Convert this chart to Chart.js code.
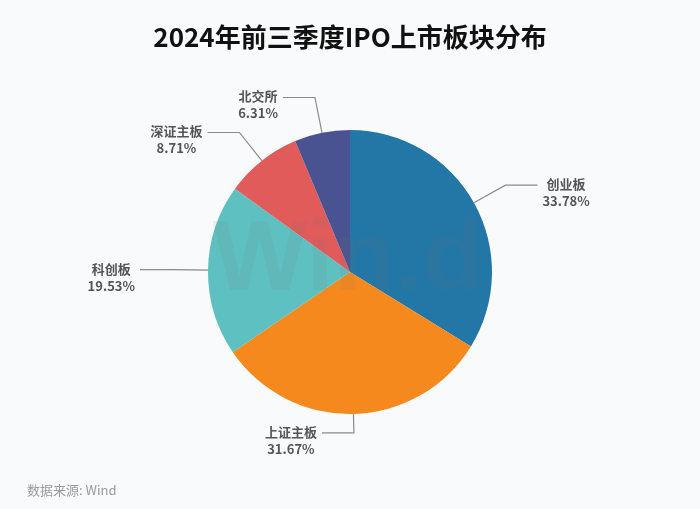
<!DOCTYPE html>
<html lang="zh">
<head>
    <meta charset="UTF-8">
    <title>2024年前三季度IPO上市板块分布</title>
    <script src="https://cdn.jsdelivr.net/npm/chart.js"></script>
    <style>
        html, body { margin: 0; padding: 0; background: #f9fafc; }
        #wrap { width: 700px; height: 509px; position: relative; }
    </style>
</head>
<body>
<div id="wrap">
    <canvas id="pieChart"></canvas>
</div>
<script type="text/javascript">
    // data
    var titleText = "2024年前三季度IPO上市板块分布";
    var sourceText = "数据来源: Wind";
    var boards = ["创业板", "上证主板", "科创板", "深证主板", "北交所"];
    var shares = [33.78, 31.67, 19.53, 8.71, 6.31];
    var colors = ["#2277a6", "#f5891d", "#5ec0c0", "#e15b5b", "#4a5391"];

    var labelFont = 'bold 13px "Noto Sans CJK SC", "Noto Sans", sans-serif';

    // title, watermark, source and outside labels
    var decorPlugin = {
        id: "decor",
        beforeDraw: function(chart) {
            var ctx = chart.ctx;
            ctx.save();
            ctx.fillStyle = "#111";
            ctx.font = 'bold 26px "Noto Sans CJK SC", sans-serif';
            ctx.textAlign = "center";
            ctx.textBaseline = "middle";
            ctx.fillText(titleText, chart.width / 2, 37);

            ctx.fillStyle = "#9a9a9a";
            ctx.font = '13px "Noto Sans CJK SC", sans-serif';
            ctx.textAlign = "left";
            ctx.fillText(sourceText, 27, 490);
            ctx.restore();
        },
        afterDatasetsDraw: function(chart) {
            var ctx = chart.ctx;
            var meta = chart.getDatasetMeta(0);
            ctx.save();

            // faint watermark
            ctx.fillStyle = "rgba(120,120,120,0.10)";
            ctx.font = 'bold 100px "Liberation Sans", Arial, sans-serif';
            ctx.textAlign = "center";
            ctx.textBaseline = "middle";
            ctx.fillText("Win.d", 348, 262);

            ctx.font = labelFont;
            meta.data.forEach(function(arc, i) {
                var p = arc.getProps(["x", "y", "startAngle", "endAngle", "outerRadius"], true);
                var mid = (p.startAngle + p.endAngle) / 2;
                var cos = Math.cos(mid), sin = Math.sin(mid);
                var x0 = p.x + p.outerRadius * cos;
                var y0 = p.y + p.outerRadius * sin;
                var r1 = p.outerRadius + (sin > 0.95 ? 19 : 36);
                var x1 = p.x + r1 * cos;
                var y1 = p.y + r1 * sin;
                var right = cos > 0.1;
                var x2 = x1 + (right ? 32 : -32);

                ctx.strokeStyle = "#8a8a8a";
                ctx.lineWidth = 1.2;
                ctx.beginPath();
                ctx.moveTo(x0, y0);
                ctx.lineTo(x1, y1);
                ctx.lineTo(x2, y1);
                ctx.stroke();

                var l1 = boards[i];
                var l2 = shares[i].toFixed(2) + "%";
                var w = Math.max(ctx.measureText(l1).width, ctx.measureText(l2).width);
                var cx = right ? x2 + 5 + w / 2 : x2 - 5 - w / 2;
                ctx.fillStyle = "#555";
                ctx.textAlign = "center";
                ctx.textBaseline = "middle";
                ctx.fillText(l1, cx, y1 - 1);
                ctx.fillText(l2, cx, y1 + 16);
            });
            ctx.restore();
        }
    };

    var pieCtx = document.getElementById("pieChart").getContext("2d");
    var pieChart = new Chart(pieCtx, {
        type: "pie",
        data: {
            labels: boards,
            datasets: [{
                data: shares,
                backgroundColor: colors,
                borderWidth: 0
            }]
        },
        options: {
            responsive: true,
            maintainAspectRatio: false,
            animation: false,
            layout: {
                padding: { top: 130, bottom: 95, left: 100, right: 100 }
            },
            plugins: {
                legend: { display: false },
                tooltip: { enabled: false }
            }
        },
        plugins: [decorPlugin]
    });
</script>
</body>
</html>
